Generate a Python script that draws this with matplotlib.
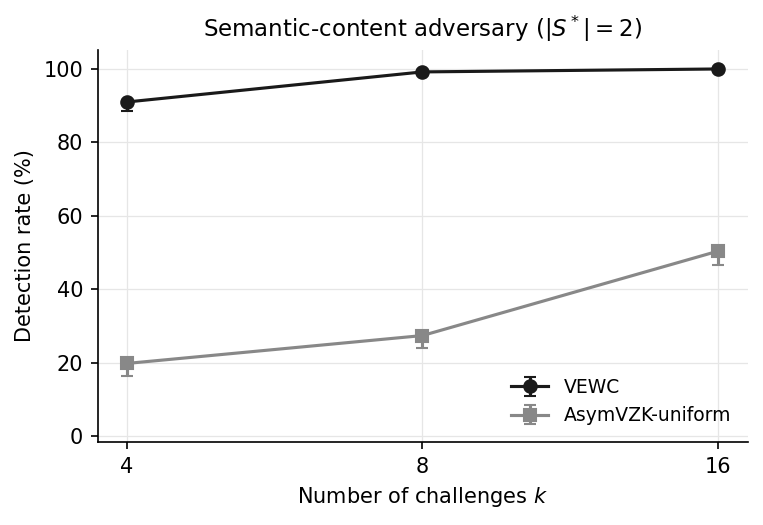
import matplotlib
matplotlib.use("Agg")
import matplotlib.pyplot as plt
import numpy as np

challenges = ["4", "8", "16"]

vewc_rate = [91.0, 99.2, 100.0]
vewc_err_low = [2.5, 0.0, 0.0]

asym_rate = [19.8, 27.4, 50.4]
asym_err_low = [3.3, 3.3, 3.9]

x = np.arange(len(challenges))

fig, ax = plt.subplots(figsize=(763 / 150, 525 / 150), dpi=150)

ax.errorbar(x, vewc_rate, yerr=[vewc_err_low, [0] * 3], color="#1a1a1a",
            marker="o", markersize=6, linewidth=1.5, capsize=3,
            label="VEWC", zorder=3)
ax.errorbar(x, asym_rate, yerr=[asym_err_low, [0] * 3], color="#888888",
            marker="s", markersize=6, linewidth=1.5, capsize=3,
            label="AsymVZK-uniform", zorder=3)

ax.set_xticks(x)
ax.set_xticklabels(challenges)
ax.set_xlim(-0.098, 2.1)
ax.set_ylim(-1.6, 105.2)
ax.set_yticks([0, 20, 40, 60, 80, 100])
ax.tick_params(labelsize=10)

ax.grid(True, color="#e6e6e6", linewidth=0.6)
ax.set_axisbelow(True)
ax.spines["top"].set_visible(False)
ax.spines["right"].set_visible(False)

ax.set_xlabel("Number of challenges $k$", fontsize=10)
ax.set_ylabel("Detection rate (%)", fontsize=10)
ax.set_title("Semantic-content adversary ($|S^*| = 2$)", fontsize=11)
ax.legend(loc="lower right", frameon=False, fontsize=9)

fig.subplots_adjust(left=0.128, right=0.980, top=0.905, bottom=0.158)
fig.savefig("out.png", dpi=150)
